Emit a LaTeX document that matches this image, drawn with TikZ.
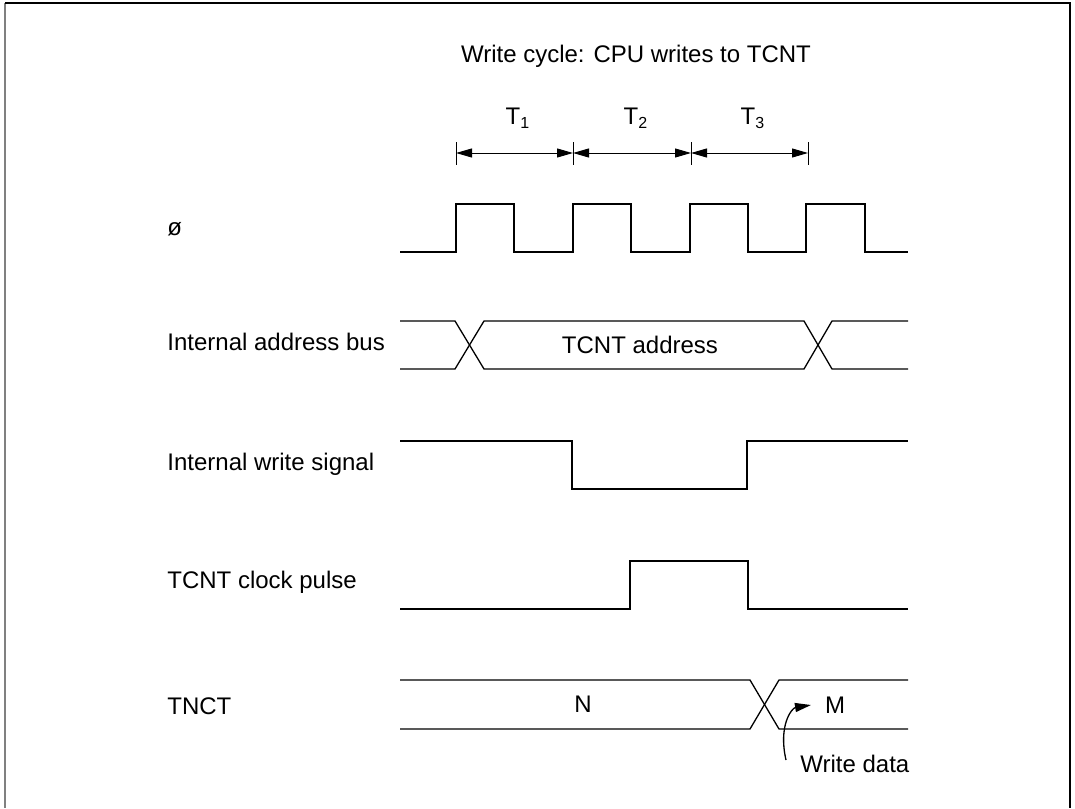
\documentclass[tikz,border=0pt]{standalone}
\usepackage{fontspec}
\setmainfont{Liberation Sans}
\usetikzlibrary{arrows.meta}

\begin{document}
\begin{tikzpicture}[x=0.5pt,y=-0.5pt,
    sig/.style={line width=0.65pt},
    lbl/.style={anchor=base west,inner sep=0pt,font=\fontsize{12}{14}\selectfont},
    txt/.style={inner sep=0pt,font=\fontsize{12}{14}\selectfont},
    tip/.style={-{Triangle[length=8pt,width=4.5pt]}},
    dim/.style={line width=0.5pt,{Triangle[length=8pt,width=4.5pt]}-{Triangle[length=8pt,width=4.5pt]}}]

    \useasboundingbox (0,0) rectangle (1075,808);
    \draw[line width=1pt,gray] (5,3) -- (5,808);
    \draw[line width=1pt] (5,3) -- (1070,3) -- (1070,808);

    \node[txt,anchor=base] (title) at (636,63) {Write cycle: CPU writes to TCNT};

    % bus cycle states
    \foreach \x [count=\i] in {456,573,691,808}{
        \draw[line width=0.5pt] (\x,142) -- (\x,165);
        \coordinate (t\i) at (\x,153);
    }
    \draw[dim] (t1) -- (t2);
    \draw[dim] (t2) -- (t3);
    \draw[dim] (t3) -- (t4);
    \node[txt,anchor=base] (T1) at (518,125) {T\textsubscript{1}};
    \node[txt,anchor=base] (T2) at (636,125) {T\textsubscript{2}};
    \node[txt,anchor=base] (T3) at (753,125) {T\textsubscript{3}};

    % signal names
    \node[lbl] (phi)   at (167,235) {ø};
    \node[lbl] (abus)  at (167,350) {Internal address bus};
    \node[lbl] (wsig)  at (167,470) {Internal write signal};
    \node[lbl] (pulse) at (167,588) {TCNT clock pulse};
    \node[lbl] (tnct)  at (167,714) {TNCT};

    % waveforms
    \draw[sig] (400,252) -| (456,204) -| (514,252) -| (573,204) -| (631,252)
        -| (690,204) -| (748,252) -| (806,204) -| (865,252) -- (908,252);

    \draw[sig] (400,321) -- (455,321) -- (484,369) -- (804,369) -- (832,321) -- (908,321);
    \draw[sig] (400,369) -- (455,369) -- (484,321) -- (804,321) -- (832,369) -- (908,369);
    \node[txt] (addr) at (640,345) {TCNT address};

    \draw[sig] (400,441) -| (572,489) -| (747,441) -- (908,441);

    \draw[sig] (400,609) -| (630,561) -| (748,609) -- (908,609);

    \draw[sig] (400,680) -- (750,680) -- (779,729) -- (908,729);
    \draw[sig] (400,729) -- (750,729) -- (779,680) -- (908,680);
    \node[txt] (n) at (583,704) {N};
    \node[txt] (m) at (835,705) {M};

    \node[lbl] (wdata) at (800,772) {Write data};
    \coordinate (wtail) at (786,760);
    \coordinate (whead) at (811,705);
    \draw[sig,tip] (wtail) .. controls (778,725) and (792,708) .. (whead);

\end{tikzpicture}
\end{document}
